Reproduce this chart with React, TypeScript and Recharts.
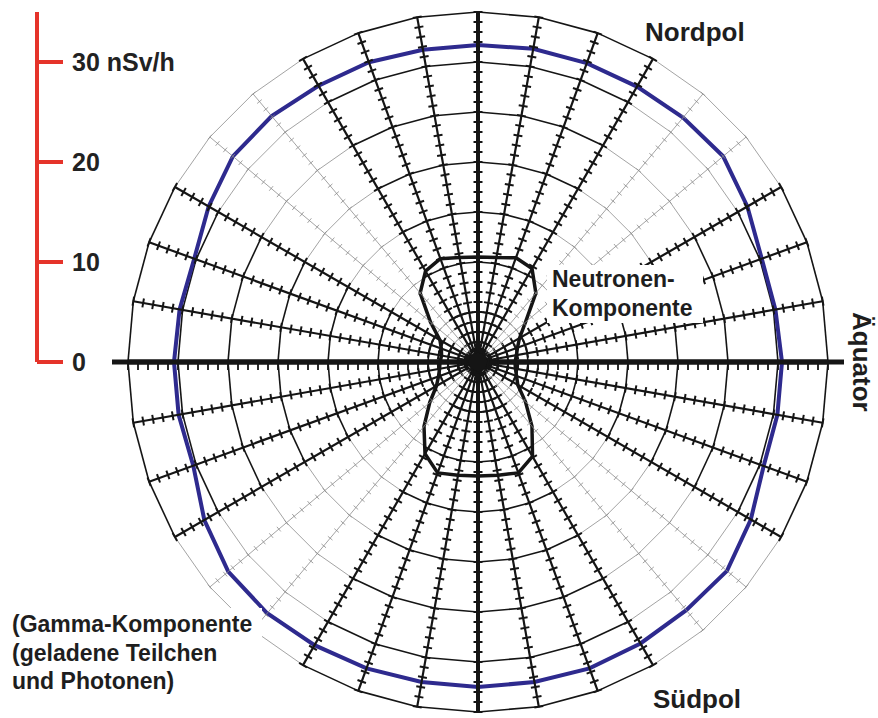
import React from "react";
import {
  RadarChart,
  Radar,
  PolarAngleAxis,
  PolarRadiusAxis,
  LineChart,
  YAxis,
} from "recharts";

// direction of each spoke, degrees counter-clockwise from "Äquator" (right)
const angles = [
  0, 10, 20, 30, 40, 50, 60, 70, 80, 90, 100, 110, 120, 130, 140, 150, 160, 170,
  180, 190, 200, 210, 220, 230, 240, 250, 260, 270, 280, 290, 300, 310, 320, 330,
  340, 350,
];

// gamma component (charged particles + photons), nSv/h
const gamma = [
  30.4, 30.2, 30.2, 31.1, 32.0, 31.9, 31.8, 31.8, 31.8, 31.7, 31.7, 31.9, 31.9,
  32.1, 32.0, 31.1, 30.2, 30.3, 30.4, 30.4, 30.3, 31.6, 32.6, 32.8, 32.7, 32.6,
  32.5, 32.5, 32.5, 32.6, 32.5, 32.4, 32.5, 31.5, 30.4, 30.4,
];

// neutron component, nSv/h
const neutron = [
  3.7, 3.9, 4.2, 4.8, 6.2, 9.0, 10.8, 11.1, 10.6, 10.5, 10.6, 11.0, 10.5, 9.0,
  6.2, 4.4, 3.9, 3.7, 3.8, 3.9, 4.2, 4.8, 6.3, 8.4, 10.6, 11.8, 11.5, 11.4, 11.5,
  11.8, 10.9, 8.4, 6.2, 4.6, 4.1, 3.8,
];

const ringLevels = [5, 10, 15, 20, 25, 30, 35];
const hubLevel = 1.4;
const unitTicks = [
  1, 2, 3, 4, 5, 6, 7, 8, 9, 10, 11, 12, 13, 14, 15, 16, 17, 18, 19, 20, 21, 22,
  23, 24, 25, 26, 27, 28, 29, 30, 31, 32, 33, 34, 35,
];
const scaleTicks = [0, 10, 20, 30];
const scaleLabels = ["0", "10", "20", "30 nSv/h"];
const thinAngles = [40, 50, 130, 140, 220, 230, 310, 320];
const axisAngles = [0, 90, 180, 270];
const equatorAngles = [0, 180];

const INK = "#151515";
const GREY = "#8c8c8c";
const RED = "#e5332a";
const BLUE = "#2e2a8e";
const FONT = "'Liberation Sans', Arial, sans-serif";

const rows = angles.map((angle, i) => {
  const row: Record<string, number> = {
    angle,
    gamma: gamma[i],
    neutron: neutron[i],
    hub: hubLevel,
  };
  ringLevels.forEach((lv) => {
    row[`ring${lv}`] = lv;
  });
  return row;
});

// ring polygon, thin grey in the diagonal sectors
const RingShape = (props: any) => {
  const pts = props.points || [];
  return (
    <g>
      {pts.map((p: any, i: number) => {
        const q = pts[(i + 1) % pts.length];
        const thin = [30, 40, 50].includes(p.payload.angle % 90);
        return (
          <line
            key={i}
            x1={p.x}
            y1={p.y}
            x2={q.x}
            y2={q.y}
            stroke={thin ? GREY : INK}
            strokeWidth={thin ? 0.8 : 1.6}
          />
        );
      })}
    </g>
  );
};

const spokeTick = (angle: number) => (props: any) => {
  const { x, y, payload } = props;
  if (!payload || payload.value === 0) return <g />;
  if (angle === 0 || angle === 180) {
    return <line x1={x} y1={y} x2={x} y2={y + 8} stroke={INK} strokeWidth={1.8} />;
  }
  const thin = thinAngles.includes(angle);
  const h = thin ? 3 : 4.5;
  const rad = (angle * Math.PI) / 180;
  const dx = Math.sin(rad) * h;
  const dy = Math.cos(rad) * h;
  return (
    <line
      x1={x - dx}
      y1={y - dy}
      x2={x + dx}
      y2={y + dy}
      stroke={thin ? GREY : INK}
      strokeWidth={thin ? 0.8 : 2}
    />
  );
};

const spokeWidth = (a: number) =>
  a === 0 || a === 180 ? 5 : axisAngles.includes(a) ? 4 : thinAngles.includes(a) ? 0.8 : 2.2;

export default function App() {
  return (
    <div
      style={{
        position: "absolute",
        left: 0,
        top: 0,
        width: 878,
        height: 718,
        background: "#fff",
        overflow: "hidden",
      }}
    >
      {/* equator line runs a little past the outer ring */}
      <div style={{ position: "absolute", left: 0, top: 0 }}>
        <RadarChart
          width={878}
          height={718}
          cx={478}
          cy={362}
          outerRadius={366}
          startAngle={-10}
          endAngle={350}
          data={rows}
          margin={{ top: 0, right: 0, bottom: 0, left: 0 }}
        >
          <PolarAngleAxis dataKey="angle" tick={false} axisLine={false} tickLine={false} />
          {equatorAngles.map((a) => (
            <PolarRadiusAxis
              key={`eq${a}`}
              radiusAxisId={a === 0 ? 0 : `eq${a}`}
              angle={a}
              type="number"
              domain={[0, 36.6]}
              allowDataOverflow
              tick={false}
              axisLine={{ stroke: INK, strokeWidth: 5 }}
            />
          ))}
        </RadarChart>
      </div>

      <div style={{ position: "absolute", left: 0, top: 0 }}>
        <RadarChart
          width={878}
          height={718}
          cx={478}
          cy={362}
          outerRadius={350}
          startAngle={-10}
          endAngle={350}
          data={rows}
          margin={{ top: 0, right: 0, bottom: 0, left: 0 }}
        >
          <PolarAngleAxis dataKey="angle" tick={false} axisLine={false} tickLine={false} />
          {ringLevels.map((lv) => (
            <Radar
              key={`ring${lv}`}
              dataKey={`ring${lv}`}
              shape={RingShape}
              fill="none"
              dot={false}
              legendType="none"
              isAnimationActive={false}
            />
          ))}
          {angles.map((a) => (
            <PolarRadiusAxis
              key={`spoke${a}`}
              radiusAxisId={a === 0 ? 0 : `s${a}`}
              angle={a}
              type="number"
              domain={[0, 35]}
              allowDataOverflow
              ticks={unitTicks}
              tickCount={36}
              tick={spokeTick(a)}
              axisLine={{
                stroke: thinAngles.includes(a) ? GREY : INK,
                strokeWidth: spokeWidth(a),
              }}
            />
          ))}
          <Radar
            dataKey="neutron"
            stroke={INK}
            strokeWidth={3.5}
            strokeLinejoin="round"
            fill="none"
            dot={false}
            isAnimationActive={false}
          />
          <Radar
            dataKey="gamma"
            stroke={BLUE}
            strokeWidth={4}
            fill="none"
            dot={false}
            isAnimationActive={false}
          />
          <Radar
            dataKey="hub"
            stroke={INK}
            strokeWidth={1}
            fill={INK}
            fillOpacity={1}
            dot={false}
            legendType="none"
            isAnimationActive={false}
          />
        </RadarChart>
      </div>

      <div style={{ position: "absolute", left: 0, top: 0 }}>
        <LineChart
          width={237}
          height={718}
          data={[]}
          margin={{ top: 12, right: 0, bottom: 356, left: 0 }}
        >
          <YAxis
            orientation="right"
            type="number"
            domain={[0, 35]}
            allowDataOverflow
            ticks={scaleTicks}
            width={200}
            tickSize={26}
            tickMargin={9}
            axisLine={{ stroke: RED, strokeWidth: 4 }}
            tickLine={{ stroke: RED, strokeWidth: 4 }}
            tickFormatter={(v: number) => scaleLabels[scaleTicks.indexOf(v)]}
            tick={{ fill: "#222", fontSize: 25, fontWeight: "bold", fontFamily: FONT }}
          />
        </LineChart>
      </div>

      <svg
        width={878}
        height={718}
        style={{ position: "absolute", left: 0, top: 0, pointerEvents: "none" }}
        fontFamily={FONT}
        fontWeight="bold"
        fill="#1e1e1e"
      >
        <rect x={547} y={265} width={156} height={58} fill="#fff" />
        <rect x={8} y={608} width={254} height={90} fill="#fff" />
        <text x={645} y={41} fontSize={26}>Nordpol</text>
        <text x={653} y={708} fontSize={26}>Südpol</text>
        <text transform="translate(853,312) rotate(90)" fontSize={26}>Äquator</text>
        <text x={552} y={287} fontSize={23}>Neutronen-</text>
        <text x={552} y={316} fontSize={23}>Komponente</text>
        <text x={12} y={632} fontSize={23}>(Gamma-Komponente</text>
        <text x={12} y={661} fontSize={23}>(geladene Teilchen</text>
        <text x={12} y={689} fontSize={23}>und Photonen)</text>
      </svg>
    </div>
  );
}
